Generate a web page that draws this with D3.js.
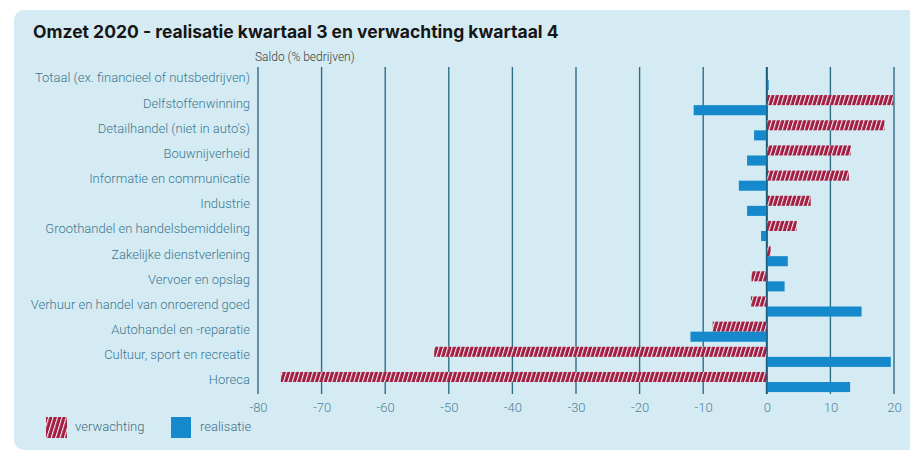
<!DOCTYPE html>
<html>
<head>
<meta charset="utf-8">
<style>
body { margin: 0; background: #fff; }
svg { display: block; }
.cat { font-family: Roboto, sans-serif; font-weight: 300; font-size: 13px; fill: #3a7890; }
.tick text { font-family: Roboto, sans-serif; font-weight: 300; font-size: 13px; fill: #4f8299; }
.title { font-family: Inter, "Open Sans", sans-serif; font-weight: 700; font-size: 17.5px; fill: #161616; }
.unit { font-family: Roboto, sans-serif; font-weight: 300; font-size: 12px; fill: #3b3b3b; }
.legend text { font-family: Roboto, sans-serif; font-weight: 300; font-size: 13px; fill: #3f6e85; }
</style>
</head>
<body>
<svg width="910" height="451"></svg>
<script src="https://cdn.jsdelivr.net/npm/d3@7"></script>
<script>

var categories = ["Totaal (ex. financieel of nutsbedrijven)", "Delfstoffenwinning", "Detailhandel (niet in auto's)",
  "Bouwnijverheid", "Informatie en communicatie", "Industrie", "Groothandel en handelsbemiddeling",
  "Zakelijke dienstverlening", "Vervoer en opslag", "Verhuur en handel van onroerend goed",
  "Autohandel en -reparatie", "Cultuur, sport en recreatie", "Horeca"];
var verwachting = [0, 19.9, 18.5, 13.2, 12.9, 6.9, 4.7, 0.6, -2.4, -2.5, -8.5, -52.3, -76.4];
var realisatie  = [0.3, -11.5, -2.0, -3.1, -4.4, -3.1, -0.9, 3.3, 2.8, 14.9, -12.0, 19.5, 13.1];
var series = ["verwachting", "realisatie"];
var ticks = [-80, -70, -60, -50, -40, -30, -20, -10, 0, 10, 20];

var svg = d3.select("svg");

// panel
svg.append("rect").attr("x", 14).attr("y", 10).attr("width", 920).attr("height", 440)
  .attr("rx", 10).attr("fill", "#d5ebf3");

var defs = svg.append("defs");
var pat = defs.append("pattern").attr("id", "hatch")
  .attr("patternUnits", "userSpaceOnUse")
  .attr("width", 4.2).attr("height", 10)
  .attr("patternTransform", "rotate(17)");
pat.append("rect").attr("width", 4.2).attr("height", 10).attr("fill", "#a11d43");
pat.append("rect").attr("x", 0).attr("width", 1.1).attr("height", 10).attr("fill", "#f4f4f4");

svg.append("text").attr("class", "title").attr("x", 33).attr("y", 38)
  .text("Omzet 2020 - realisatie kwartaal 3 en verwachting kwartaal 4");

var x = d3.scaleLinear().domain([-80, 20]).range([258, 894]);
var y = d3.scaleBand().domain(categories).range([67.4, 394.6]).paddingInner(0.2).paddingOuter(0.1);
var ySub = d3.scaleBand().domain(series).range([0, y.bandwidth()]);

svg.append("text").attr("class", "unit").attr("x", 255).attr("y", 61).text("Saldo (% bedrijven)");

// gridlines
svg.append("g").selectAll("line").data(ticks).enter().append("line")
  .attr("x1", d => x(d)).attr("x2", d => x(d))
  .attr("y1", 67).attr("y2", 394)
  .attr("stroke", d => d === 0 ? "#1b5d78" : "#2d6e89")
  .attr("stroke-width", d => d === 0 ? 2 : 1.4);

// category labels
svg.append("g").selectAll("text").data(categories).enter().append("text")
  .attr("class", "cat")
  .attr("x", 250).attr("y", d => y(d) + y.bandwidth() / 2 - 1)
  .attr("text-anchor", "end").attr("dominant-baseline", "middle")
  .text(d => d);

var rows = categories.map((c, i) => ({cat: c, verwachting: verwachting[i], realisatie: realisatie[i]}));

series.forEach(function(s) {
  svg.append("g").selectAll("rect").data(rows).enter().append("rect")
    .attr("x", d => x(Math.min(0, d[s])))
    .attr("width", d => Math.abs(x(d[s]) - x(0)))
    .attr("y", d => y(d.cat) + ySub(s))
    .attr("height", ySub.bandwidth())
    .attr("fill", s === "verwachting" ? "url(#hatch)" : "#1589cb");
});

// redraw zero line on top
svg.append("line").attr("x1", x(0)).attr("x2", x(0)).attr("y1", 67).attr("y2", 394)
  .attr("stroke", "#1b5d78").attr("stroke-width", 1.5).attr("opacity", 0.6);

// x axis
var xAxis = svg.append("g").attr("transform", "translate(0,394)")
  .call(d3.axisBottom(x).tickValues(ticks).tickFormat(d => String(d)).tickSize(0).tickPadding(9));
xAxis.select(".domain").remove();

// legend
var legend = svg.append("g").attr("class", "legend");
legend.append("rect").attr("x", 46).attr("y", 417).attr("width", 21).attr("height", 21).attr("fill", "url(#hatch)");
legend.append("text").attr("x", 75).attr("y", 428).attr("dominant-baseline", "middle").text("verwachting");
legend.append("rect").attr("x", 171).attr("y", 417).attr("width", 20).attr("height", 21).attr("fill", "#1589cb");
legend.append("text").attr("x", 200).attr("y", 428).attr("dominant-baseline", "middle").text("realisatie");

</script>
</body>
</html>
